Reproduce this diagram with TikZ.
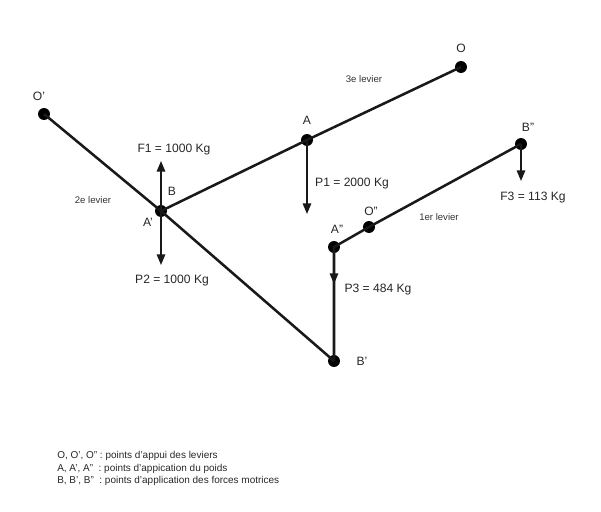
\documentclass[tikz,border=0pt]{standalone}
\usepackage{fontspec}
\setmainfont{Liberation Sans}
\usetikzlibrary{arrows.meta}
\tikzstyle{pivot}=[circle,fill=black,minimum size=8.5pt,inner sep=0pt]
\tikzstyle{bar}=[line width=1.8pt,black!90]
\tikzstyle{force}=[line width=1pt,black!90,-{Triangle[length=7.5pt,width=6pt]}]
\tikzstyle{lbl}=[inner sep=0pt,font=\fontsize{8.6pt}{10pt}\selectfont,text=black!85]
\tikzstyle{small}=[inner sep=0pt,font=\fontsize{6.8pt}{8pt}\selectfont,text=black!80]
\tikzstyle{legend}=[inner sep=0pt,anchor=west,font=\fontsize{7.1pt}{8pt}\selectfont,text=black!85]
\begin{document}
\begin{tikzpicture}[x=0.025cm,y=-0.025cm]
    \useasboundingbox (0,0) rectangle (601,512);

    \node[pivot] (O) at (461,67)   {};
    \node[pivot] (O1) at (44,114)  {};
    \node[pivot] (O2) at (369,227) {};
    \node[pivot] (A) at (307,140)  {};
    \node[pivot] (A1) at (161,211) {};
    \node[pivot] (A2) at (334,247) {};
    \node[pivot] (B1) at (334,361) {};
    \node[pivot] (B2) at (521,144) {};

    \draw[bar] (O.center) -- (A.center) -- (A1.center);
    \draw[bar] (O1.center) -- (A1.center) -- (B1.center);
    \draw[bar] (B1.center) -- (A2.center) -- (O2.center) -- (B2.center);

    \coordinate (F1end) at (161,161);
    \coordinate (P2end) at (161,265);
    \coordinate (P1end) at (307,214);
    \coordinate (P3end) at (334,284);
    \coordinate (F3end) at (521,181);
    \draw[force] (A1.center) -- (F1end);
    \draw[force] (A1.center) -- (P2end);
    \draw[force] (A.center) -- (P1end);
    \draw[force] (A2.center) -- (P3end);
    \draw[force] (B2.center) -- (F3end);

    \node[lbl] (lO) at (461,48)    {O};
    \node[lbl] (lO1) at (39,96)    {O'};
    \node[lbl] (lO2) at (371,211)  {O''};
    \node[lbl] (lA) at (307,120)   {A};
    \node[lbl] (lA1) at (148,222)  {A'};
    \node[lbl] (lA2) at (337,229)  {A''};
    \node[lbl] (lB) at (172,191)   {B};
    \node[lbl] (lB1) at (362,361)  {B'};
    \node[lbl] (lB2) at (528,127)  {B''};

    \node[lbl] (F1) at (174,150)   {F1 = 1000 Kg};
    \node[lbl] (P2) at (172,281)   {P2 = 1000 Kg};
    \node[lbl] (P1) at (352,184)   {P1 = 2000 Kg};
    \node[lbl] (P3) at (378,290)   {P3 = 484 Kg};
    \node[lbl] (F3) at (533,198)   {F3 = 113 Kg};

    \node[small] (lev1) at (439,217) {1er levier};
    \node[small] (lev2) at (93,200)  {2e levier};
    \node[small] (lev3) at (364,79)  {3e levier};

    \node[legend] (leg1) at (57,456) {O, O', O'' : points d'appui des leviers};
    \node[legend] (leg2) at (57,468.5) {A, A', A''~ : points d'appication du poids};
    \node[legend] (leg3) at (57,481) {B, B', B''~ : points d'application des forces motrices};
\end{tikzpicture}
\end{document}
